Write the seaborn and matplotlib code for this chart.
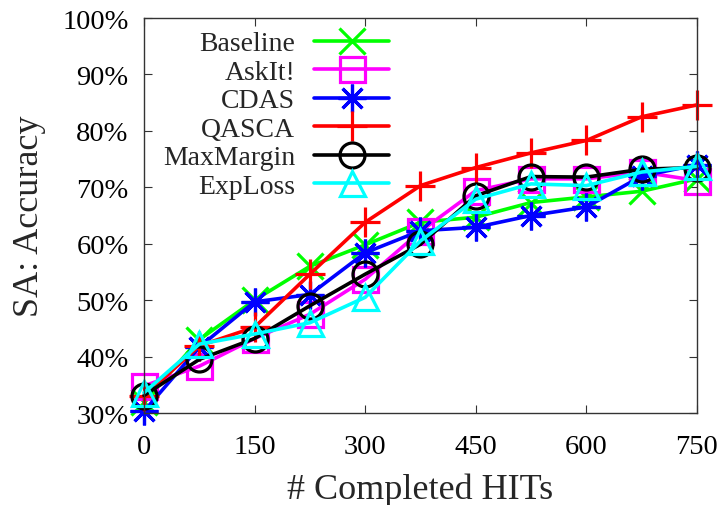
import matplotlib
matplotlib.use("Agg")
import matplotlib.pyplot as plt
import seaborn as sns
import pandas as pd
from matplotlib.ticker import FuncFormatter

sns.set_theme(style="white")
plt.rcParams['font.family'] = ['Liberation Serif', 'DejaVu Serif']

hits = [0, 75, 150, 225, 300, 375, 450, 525, 600, 675, 750]
baseline = [32.0, 43.0, 50.0, 56.0, 59.8, 63.8, 64.7, 67.3, 68.3, 69.3, 71.5]
askit = [34.8, 38.3, 43.2, 47.5, 53.7, 62.2, 69.4, 71.5, 71.5, 72.7, 71.2]
cdas = [30.3, 41.7, 49.7, 51.0, 58.4, 62.3, 62.9, 65.0, 66.5, 72.0, 74.0]
qasca = [33.0, 41.9, 45.2, 54.6, 63.8, 70.3, 73.5, 76.1, 78.3, 82.5, 84.6]
maxmargin = [33.1, 39.5, 43.2, 49.0, 54.6, 59.9, 68.5, 71.9, 71.8, 73.2, 73.5]
exploss = [33.6, 42.2, 44.0, 46.0, 50.5, 60.5, 67.9, 70.6, 70.3, 72.7, 73.7]

series_names = ["Baseline", "AskIt!", "CDAS", "QASCA", "MaxMargin", "ExpLoss"]
series_values = [baseline, askit, cdas, qasca, maxmargin, exploss]
colors = ["#00ff00", "#ff00ff", "#0000ff", "#ff0000", "#000000", "#00ffff"]
markers = ["x", "s", (8, 2, 0), "+", "o", "^"]
msizes = [19, 18, 20, 22, 18, 18]

xticks = [0, 150, 300, 450, 600, 750]
yticks = [30, 40, 50, 60, 70, 80, 90, 100]

rows = []
for name, vals in zip(series_names, series_values):
    for x, v in zip(hits, vals):
        rows.append({"HITs": x, "Accuracy": v, "Method": name})
df = pd.DataFrame(rows)

fig = plt.figure(figsize=(7.23, 5.06), dpi=100)
ax = fig.add_axes([144/723, 1 - 414/506, (697 - 144)/723, (414 - 19)/506])

for name, c, m, ms in zip(series_names, colors, markers, msizes):
    sub = df[df["Method"] == name]
    sns.lineplot(data=sub, x="HITs", y="Accuracy", ax=ax, color=c, marker=m,
                 markersize=ms, markerfacecolor="none", markeredgecolor=c,
                 markeredgewidth=2.3, linewidth=2.6, label=name,
                 clip_on=False)

ax.set_xlim(0, 750)
ax.set_ylim(30, 100)
ax.set_xticks(xticks)
ax.set_yticks(yticks)
ax.yaxis.set_major_formatter(FuncFormatter(lambda v, p: f"{int(v)}%"))
ax.tick_params(direction="in", length=6, width=0.8, colors="#333333",
               labelcolor="black", labelsize=20.5, top=True, right=True,
               bottom=True, left=True)
ax.tick_params(axis="y", pad=11)
ax.tick_params(axis="x", pad=15)
for s in ax.spines.values():
    s.set_color("#333333")
    s.set_linewidth(1.0)

ax.set_xlabel("# Completed HITs", fontsize=26, labelpad=10)
ax.set_ylabel("SA: Accuracy", fontsize=26, labelpad=12)

leg = ax.legend(loc="upper right", bbox_to_anchor=(389/723, 1 - 32/506),
                bbox_transform=fig.transFigure, frameon=False, fontsize=20,
                markerfirst=False, handlelength=2.7, handletextpad=0.68,
                labelspacing=0.11, borderpad=0, borderaxespad=0)

fig.savefig("out.png", dpi=100)
